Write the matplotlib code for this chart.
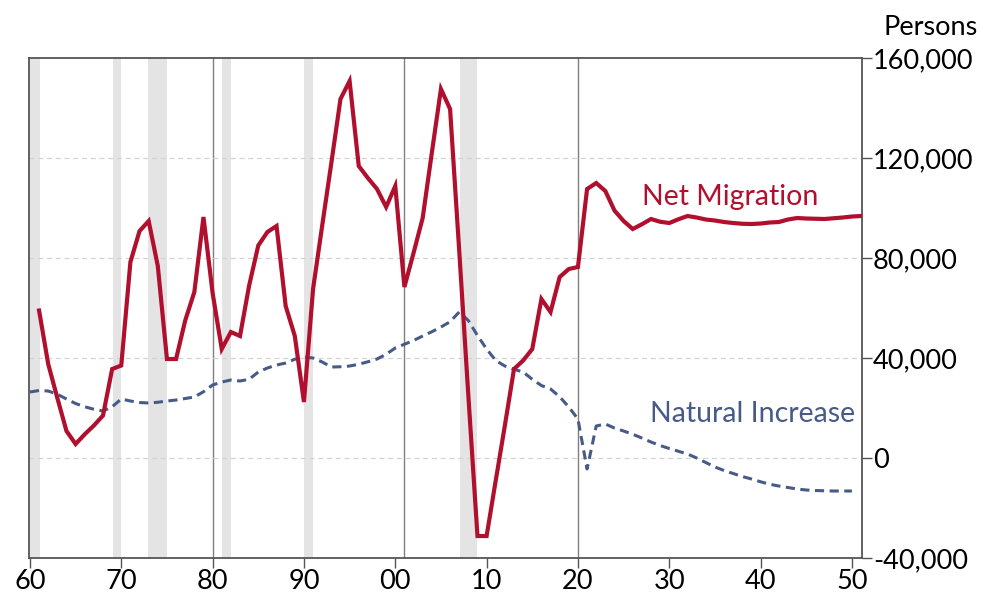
import numpy as np
import matplotlib.pyplot as plt
from matplotlib.ticker import FuncFormatter

plt.rcParams['font.family'] = ['Lato', 'DejaVu Sans']

##############################################
# Annual series (persons)

years_mig = np.arange(1961, 2052)
net_migration = [
    59000, 37600, 24000, 10800, 5600, 9500, 13000, 17000, 35600, 37000,      # 1961-1970
    78400, 90800, 94800, 76800, 39600, 39600, 55000, 66400, 96400, 66000,    # 1971-1980
    43600, 50400, 48800, 69000, 85000, 90400, 92800, 60800, 48800, 22400,    # 1981-1990
    67600, 93000, 118000, 143600, 150800, 116800, 112000, 107600, 100400, 108800,  # 1991-2000
    68400, 82000, 96000, 122000, 147600, 139600, 83000, 25000, -31200, -31200,     # 2001-2010
    -9000, 13000, 35600, 39000, 43600, 63600, 58400, 72400, 75600, 76400,    # 2011-2020
    107600, 110000, 106800, 99000, 94800, 91600, 93500, 95600, 94500, 94000,  # 2021-2030
    95500, 96800, 96200, 95400, 95000, 94400, 94000, 93700, 93600, 93800,    # 2031-2040
    94200, 94400, 95400, 96000, 95800, 95700, 95600, 95900, 96200, 96600,    # 2041-2050
    96800,                                                                   # 2051
]

years_nat = np.arange(1960, 2051)
natural_increase = [
    26400, 27000, 26800, 25500, 23600, 21800, 20500, 19500, 18800, 20500,    # 1960-1969
    23600, 22800, 22200, 22000, 22300, 22800, 23200, 23800, 24400, 26500,    # 1970-1979
    29200, 30400, 31200, 30800, 31500, 34400, 36000, 37200, 38000, 39500,    # 1980-1989
    40400, 40000, 38400, 36400, 36500, 36800, 37500, 38500, 39600, 41500,    # 1990-1999
    44000, 45500, 47000, 48800, 50500, 52400, 54500, 58400, 55000, 49000,    # 2000-2009
    43600, 39000, 36800, 35500, 34400, 31500, 29000, 27600, 24500, 20400,    # 2010-2019
    15600, -4400, 12800, 13600, 12000, 10800, 9500, 8000, 6400, 5000,        # 2020-2029
    3800, 2700, 1600, 0, -1800, -3600, -5000, -6200, -7400, -8400,           # 2030-2039
    -9500, -10500, -11200, -11800, -12400, -12800, -13000, -13100, -13200, -13200,  # 2040-2049
    -13200,                                                                  # 2050
]

# recession periods (shaded) and reference years (vertical rules)
recession_start = [1960.0, 1969.1, 1972.9, 1981.0, 1990.0, 2007.1]
recession_end   = [1961.1, 1970.0, 1975.0, 1982.0, 1991.0, 2009.0]
rule_years = [1980.0, 2001.0, 2020.0]

x_ticks = [1960, 1970, 1980, 1990, 2000, 2010, 2020, 2030, 2040, 2050]
x_ticklabels = ['60', '70', '80', '90', '00', '10', '20', '30', '40', '50']
y_ticks = [-40000, 0, 40000, 80000, 120000, 160000]

RED  = '#B10F2E'
BLUE = '#475B86'

##############################################
# Plot

fig = plt.figure(figsize=(9.84, 6.03), dpi=100)
ax = fig.add_axes([0.0295, 0.0746, 0.8465, 0.8292])

for s, e in zip(recession_start, recession_end):
    ax.axvspan(s, e, color='#E4E4E4', lw=0, zorder=0)
for yr in rule_years:
    ax.axvline(yr, color='#7F7F7F', lw=1.0, zorder=1)

for yv in [0, 40000, 80000, 120000]:
    ax.axhline(yv, color='#D4D4D4', lw=0.9, ls=(0, (4, 3)), zorder=1)

ax.plot(years_nat, natural_increase, color=BLUE, lw=2.2, ls=(0, (3, 1.8)), zorder=3)
ax.plot(years_mig, net_migration, color=RED, lw=3.0, zorder=4, solid_joinstyle='miter')

ax.set_xlim(1959.9, 2051.1)
ax.set_ylim(-40000, 160000)

ax.set_xticks(x_ticks)
ax.set_xticklabels(x_ticklabels)
ax.set_yticks(y_ticks)
ax.yaxis.set_major_formatter(FuncFormatter(lambda v, p: f'{int(v):,}'))
ax.yaxis.tick_right()
ax.tick_params(axis='both', direction='out', length=7, width=1.0,
               color='#555555', labelsize=19.5, pad=1)
ax.tick_params(axis='x', top=False)

for sp in ax.spines.values():
    sp.set_color('#555555')
    sp.set_linewidth(1.3)

ax.text(2036.7, 104500, 'Net Migration', color=RED, fontsize=20.5, ha='center', va='center')
ax.text(2050.3, 17500, 'Natural Increase', color=BLUE, fontsize=20.5, ha='right', va='center')

fig.text(0.994, 0.955, 'Persons', ha='right', va='center', fontsize=19.5)

fig.savefig('out.png', dpi=100)
